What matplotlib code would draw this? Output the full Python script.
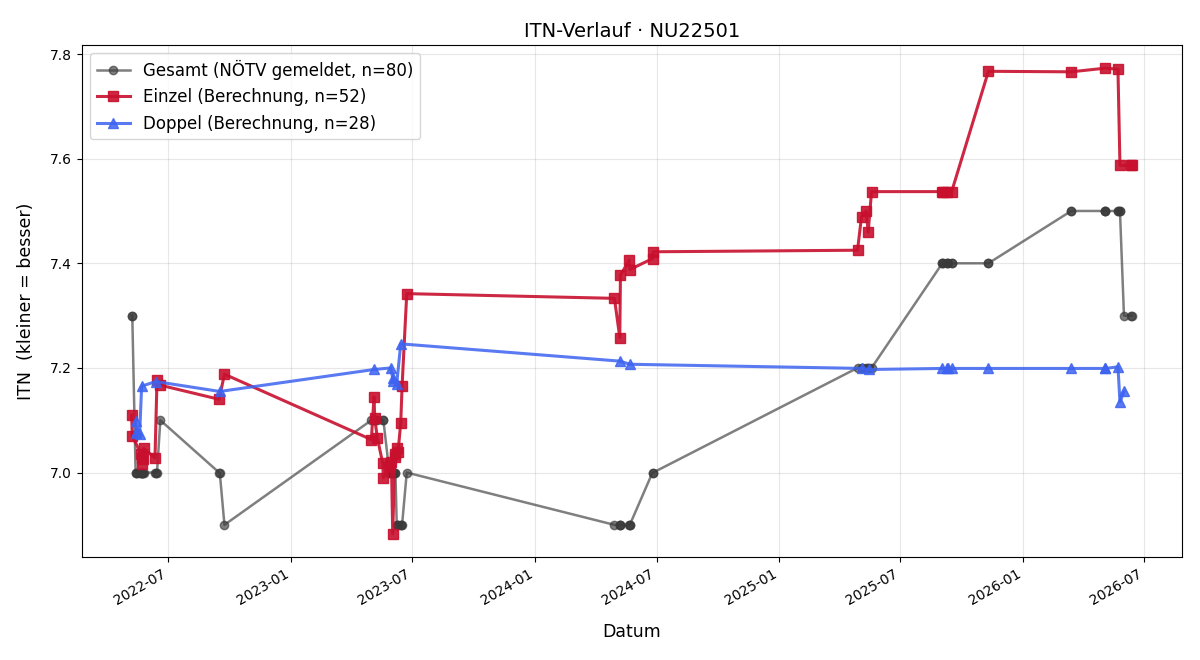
import pandas as pd
import matplotlib
matplotlib.use("Agg")
import matplotlib.pyplot as plt
import matplotlib.dates as mdates

# Einzel: Datum, berechnete ITN, gemeldete Gesamt-ITN am Spieltag
einzel_dates = ["2022-05-07", "2022-05-08", "2022-05-21", "2022-05-22", "2022-05-23", "2022-05-24",
                "2022-05-25", "2022-06-11", "2022-06-14", "2022-06-19", "2022-09-15", "2022-09-23",
                "2023-05-01", "2023-05-05", "2023-05-06", "2023-05-10", "2023-05-18", "2023-05-19",
                "2023-05-28", "2023-05-29", "2023-05-31", "2023-06-02", "2023-06-05", "2023-06-06",
                "2023-06-09", "2023-06-10", "2023-06-14", "2023-06-16", "2023-06-23",
                "2024-04-29", "2024-05-07", "2024-05-08", "2024-05-21", "2024-05-22", "2024-06-25",
                "2024-06-26", "2025-04-28", "2025-05-04", "2025-05-11", "2025-05-14", "2025-05-19",
                "2025-09-02", "2025-09-03", "2025-09-09", "2025-09-16", "2025-11-10",
                "2026-03-14", "2026-05-04", "2026-05-23", "2026-05-26", "2026-06-12", "2026-06-13"]
einzel_itn = [7.11, 7.07, 7.036, 7.017, 7.027, 7.025, 7.046, 7.028, 7.177, 7.167, 7.14, 7.188,
              7.063, 7.145, 7.104, 7.066, 7.018, 6.99, 7.01, 7.015, 7.021, 6.883, 7.03, 7.035,
              7.047, 7.04, 7.095, 7.165, 7.342,
              7.333, 7.258, 7.377, 7.406, 7.388, 7.409, 7.422,
              7.425, 7.489, 7.50, 7.46, 7.537, 7.537, 7.537, 7.537, 7.537, 7.767,
              7.766, 7.773, 7.771, 7.587, 7.587, 7.587]
einzel_gesamt = [7.3, 7.3, 7.0, 7.0, 7.0, 7.0, 7.0, 7.0, 7.0, 7.1, 7.0, 6.9,
                 7.1, 7.1, 7.1, 7.1, 7.1, 7.1, 7.0, 7.0, 7.0, 7.0, 7.0, 7.0,
                 6.9, 6.9, 6.9, 6.9, 7.0,
                 6.9, 6.9, 6.9, 6.9, 6.9, 7.0, 7.0,
                 7.2, 7.2, 7.2, 7.2, 7.2, 7.4, 7.4, 7.4, 7.4, 7.4,
                 7.5, 7.5, 7.5, 7.5, 7.3, 7.3]

# Doppel
doppel_dates = ["2022-05-13", "2022-05-14", "2022-05-15", "2022-05-19", "2022-05-22", "2022-06-12",
                "2022-09-16", "2023-05-05", "2023-05-30", "2023-06-02", "2023-06-03", "2023-06-08",
                "2023-06-14", "2024-05-07", "2024-05-22", "2025-05-05", "2025-05-15",
                "2025-09-02", "2025-09-09", "2025-09-10", "2025-09-16", "2025-11-10",
                "2026-03-14", "2026-05-03", "2026-05-04", "2026-05-23", "2026-05-26", "2026-06-01"]
doppel_itn = [7.098, 7.076, 7.08, 7.073, 7.165, 7.174, 7.155, 7.197, 7.2, 7.18, 7.175, 7.17,
              7.246, 7.213, 7.207, 7.199, 7.197, 7.199, 7.199, 7.199, 7.199, 7.199,
              7.199, 7.199, 7.199, 7.202, 7.135, 7.155]
doppel_gesamt = [7.0, 7.0, 7.0, 7.0, 7.0, 7.0, 7.0, 7.1, 7.0, 7.0, 7.0, 6.9,
                 6.9, 6.9, 6.9, 7.2, 7.2, 7.4, 7.4, 7.4, 7.4, 7.4,
                 7.5, 7.5, 7.5, 7.5, 7.5, 7.3]

ein = pd.DataFrame({"datum": pd.to_datetime(einzel_dates), "itn": einzel_itn, "gesamt": einzel_gesamt})
dop = pd.DataFrame({"datum": pd.to_datetime(doppel_dates), "itn": doppel_itn, "gesamt": doppel_gesamt})
ges = pd.concat([ein, dop]).sort_values("datum", kind="stable")

fig, ax = plt.subplots(figsize=(12, 6.6), dpi=100)

ax.plot(ges["datum"], ges["gesamt"], marker="o", color="#3a3a3a", alpha=0.65,
        lw=1.8, ms=6, label=f"Gesamt (NÖTV gemeldet, n={len(ges)})")
ax.plot(ein["datum"], ein["itn"], marker="s", color="#c8102e", alpha=0.9,
        lw=2.2, ms=7.5, label=f"Einzel (Berechnung, n={len(ein)})")
ax.plot(dop["datum"], dop["itn"], marker="^", color="#3d63f0", alpha=0.85,
        lw=2.2, ms=7, label=f"Doppel (Berechnung, n={len(dop)})")

ax.set_title("ITN-Verlauf · NU22501", fontsize=14)
ax.set_xlabel("Datum", fontsize=12.5, labelpad=11)
ax.set_ylabel("ITN  (kleiner = besser)", fontsize=12.5, labelpad=10.5)
ax.grid(True, alpha=0.3)
ax.legend(loc="upper left", fontsize=12)

ax.xaxis.set_major_locator(mdates.MonthLocator(bymonth=[1, 7]))
ax.xaxis.set_major_formatter(mdates.DateFormatter("%Y-%m"))
fig.autofmt_xdate()

fig.subplots_adjust(left=0.068, right=0.985, top=0.932, bottom=0.156)
fig.savefig("out.png", dpi=100)
